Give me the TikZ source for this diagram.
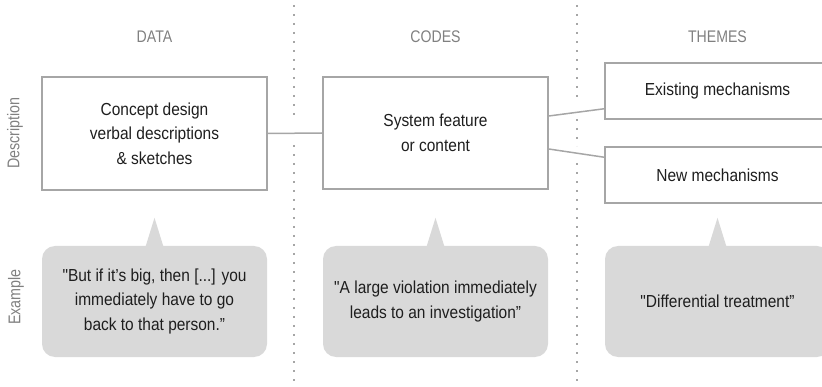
\documentclass[tikz,border=0pt]{standalone}
\usepackage{fontspec}
\setmainfont{Liberation Sans}[FakeStretch=0.89, Ligatures=TeXOff]
\newfontfamily\headfont{Liberation Sans}[FakeStretch=0.84, Ligatures=TeXOff]
\usetikzlibrary{calc}
\definecolor{linegray}{HTML}{A6A6A6}
\definecolor{headgray}{HTML}{808080}
\definecolor{bubblegray}{HTML}{D9D9D9}
\definecolor{textdark}{HTML}{1E1E1E}
\tikzset{
  bodyfont/.style={font=\fontsize{17.4}{24.5}\selectfont, text=textdark, align=center},
  box/.style={bodyfont, draw=linegray, line width=1.5pt, inner sep=0pt, minimum width=225pt},
  bubble/.style={bodyfont, fill=bubblegray, rounded corners=13pt, inner sep=0pt, minimum width=225pt, minimum height=111pt},
  tip/.style={fill=bubblegray},
  head/.style={font=\headfont\fontsize{16.8}{20}\selectfont, text=headgray},
  rowlabel/.style={font=\headfont\fontsize{17}{20}\selectfont, text=headgray, rotate=90},
  conn/.style={draw=linegray, line width=1.5pt},
  divider/.style={draw=linegray, line width=1.5pt, dash pattern=on 2pt off 7pt}
}
\begin{document}
\begin{tikzpicture}[x=1pt,y=-1pt]
\clip (0,0) rectangle (822,387);
\useasboundingbox (0,0) rectangle (822,387);
% dividers
\coordinate (d1a) at (294,5);  \coordinate (d1b) at (294,121);
\coordinate (d1c) at (294,145); \coordinate (d1d) at (294,387);
\coordinate (d2a) at (577,5);  \coordinate (d2b) at (577,103);
\coordinate (d2c) at (577,119); \coordinate (d2d) at (577,146);
\coordinate (d2e) at (577,163); \coordinate (d2f) at (577,387);
\draw[divider] (d1a) -- (d1b);
\draw[divider] (d1c) -- (d1d);
\draw[divider] (d2a) -- (d2b);
\draw[divider] (d2c) -- (d2d);
\draw[divider] (d2e) -- (d2f);
% headings
\node[head] (hdata) at (154.5,37) {DATA};
\node[head] (hcodes) at (435.5,37) {CODES};
\node[head] (hthemes) at (717.5,37) {THEMES};
\node[rowlabel] (ldesc) at (15,133) {Description};
\node[rowlabel] (lex) at (16,297) {Example};
% boxes
\node[box, minimum height=113pt] (data) at (154.5,133.5) {Concept design\\verbal descriptions\\\& sketches};
\node[box, minimum height=112pt] (codes) at (435.5,133) {System feature\\or content};
\node[box, minimum height=56pt] (exist) at (717.5,91) {Existing mechanisms};
\node[box, minimum height=56pt] (new) at (717.5,175) {New mechanisms};
% connectors
\draw[conn] (data.east) -- (codes.west);
\draw[conn] ($(codes.east)+(0,-17)$) -- ($(exist.south west)+(0,-11)$);
\draw[conn] ($(codes.east)+(0,16)$) -- ($(new.north west)+(0,11)$);
% bubbles
\node[bubble] (b1) at (154.5,301.5) {"But if it’s big, then [...] you\\immediately have to go\\back to that person.”};
\node[bubble] (b2) at (435.5,301.5) {"A large violation immediately\\leads to an investigation”};
\node[bubble] (b3) at (717.5,301.5) {"Differential treatment”};
\fill[tip] ($(b1.north)+(0,-28)$) -- ($(b1.north)+(9,1)$) -- ($(b1.north)+(-9,1)$) -- cycle;
\fill[tip] ($(b2.north)+(0,-28)$) -- ($(b2.north)+(9,1)$) -- ($(b2.north)+(-9,1)$) -- cycle;
\fill[tip] ($(b3.north)+(0,-28)$) -- ($(b3.north)+(9,1)$) -- ($(b3.north)+(-9,1)$) -- cycle;
\end{tikzpicture}
\end{document}
